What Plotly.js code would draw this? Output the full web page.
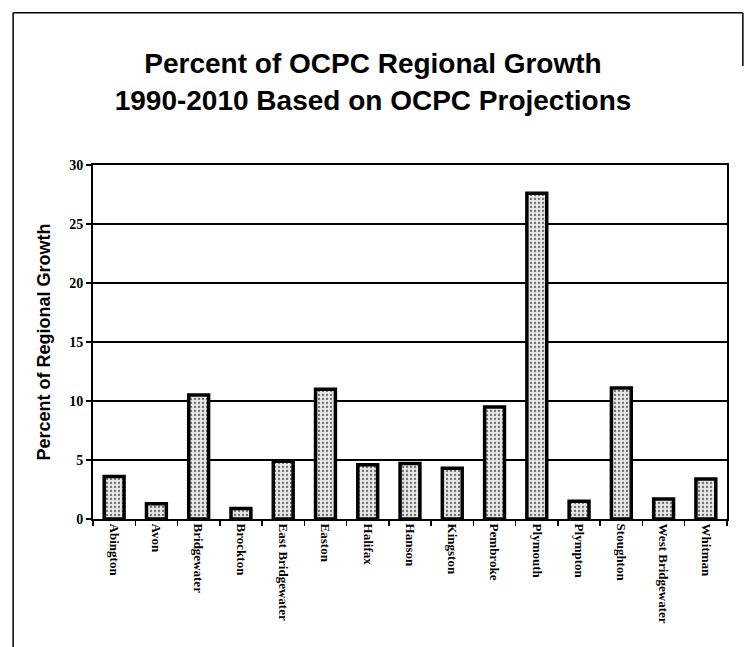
<!DOCTYPE html>
<html>
<head>
<meta charset="utf-8">
<script src="https://cdn.plot.ly/plotly-3.0.1.min.js"></script>
<style>
html,body{margin:0;padding:0;background:#fff;}
#chart{width:746px;height:647px;}
</style>
</head>
<body>
<div id="chart"></div>
<script>
const towns = ["Abington","Avon","Bridgewater","Brockton","East Bridgewater","Easton","Halifax","Hanson","Kingston","Pembroke","Plymouth","Plympton","Stoughton","West Bridgewater","Whitman"];
const growthPct = [3.6, 1.3, 10.5, 0.9, 4.9, 11.0, 4.6, 4.7, 4.3, 9.5, 27.6, 1.5, 11.1, 1.7, 3.4];
const yTicks = [0, 5, 10, 15, 20, 25, 30];

const trace = {
  type: "bar",
  x: towns,
  y: growthPct,
  marker: {
    color: "#e4e4e4",
    line: {color: "#000", width: 3.5},
    pattern: {shape: ".", fgcolor: "#6e6e6e", bgcolor: "#e6e6e6", size: 4, solidity: 0.25}
  },
  hoverinfo: "x+y"
};

const layout = {
  width: 746, height: 647,
  margin: {l: 93, r: 19, t: 165, b: 128},
  paper_bgcolor: "#fff", plot_bgcolor: "#fff",
  bargap: 0.53,
  showlegend: false,
  title: {
    text: "Percent of OCPC Regional Growth<br>1990-2010 Based on OCPC Projections",
    font: {family: "Liberation Sans, Arial, sans-serif", size: 28, color: "#000", weight: "bold"},
    xref: "container", x: 0.5, xanchor: "center",
    yref: "container", y: 0.887, yanchor: "middle"
  },
  xaxis: {
    type: "category",
    tickangle: 90,
    tickfont: {family: "Liberation Serif, Times New Roman, serif", size: 13, color: "#000", weight: "bold"},
    showline: true, linecolor: "#000", linewidth: 2, mirror: true,
    ticks: "outside", tickson: "boundaries", ticklen: 5, tickcolor: "#000", tickwidth: 1.5,
    showgrid: false, fixedrange: true
  },
  yaxis: {
    range: [0, 30],
    tickvals: yTicks,
    ticktext: yTicks.map(String),
    tickfont: {family: "Liberation Serif, Times New Roman, serif", size: 14, color: "#000", weight: "bold"},
    showline: true, linecolor: "#000", linewidth: 2, mirror: true,
    ticks: "outside", ticklen: 5, tickcolor: "#000", tickwidth: 1.5,
    showgrid: true, gridcolor: "#000", gridwidth: 1.8,
    zeroline: false,
    title: {
      text: "Percent of Regional Growth",
      font: {family: "Liberation Sans, Arial, sans-serif", size: 18, color: "#000", weight: "bold"},
      standoff: 14
    },
    fixedrange: true
  },
  shapes: [
    {type: "line", xref: "paper", yref: "paper", x0: -0.126, x1: 1.025, y0: 1.43, y1: 1.43, line: {color: "#000", width: 1.5}},
    {type: "line", xref: "paper", yref: "paper", x0: -0.126, x1: -0.126, y0: 1.43, y1: -0.4, line: {color: "#000", width: 1.5}},
    {type: "line", xref: "paper", yref: "paper", x0: 1.025, x1: 1.025, y0: 1.43, y1: 1.28, line: {color: "#000", width: 1.5}}
  ]
};

Plotly.newPlot("chart", [trace], layout, {displayModeBar: false, staticPlot: true});
</script>
</body>
</html>
